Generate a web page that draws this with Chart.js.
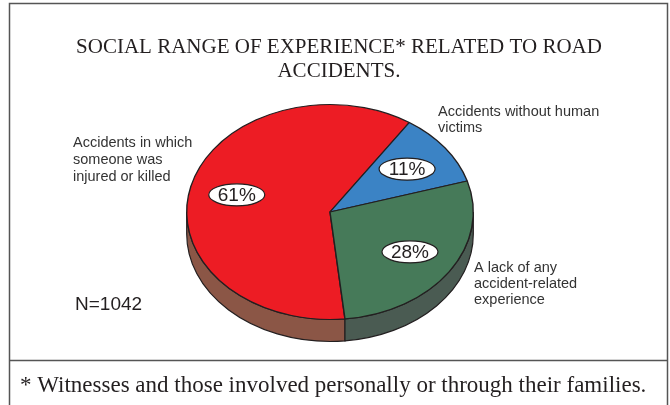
<!DOCTYPE html>
<html>
<head>
<meta charset="utf-8">
<script src="https://cdn.jsdelivr.net/npm/chart.js@4/dist/chart.umd.min.js"></script>
<style>
  html, body { margin: 0; padding: 0; background: #fff; }
  #wrap { width: 670px; height: 405px; }
</style>
</head>
<body>
<div id="wrap"><canvas id="chart" width="670" height="405"></canvas></div>
<script>
const categories = [
  "Accidents in which someone was injured or killed",
  "Accidents without human victims",
  "A lack of any accident-related experience"
];
const categoryLines = [
  ["Accidents in which", "someone was", "injured or killed"],
  ["Accidents without human", "victims"],
  ["A lack of any", "accident-related", "experience"]
];
const shares = [61, 11, 28];
const titleLines = ["SOCIAL RANGE OF EXPERIENCE* RELATED TO ROAD", "ACCIDENTS."];
const sampleNote = "N=1042";
const footnote = "* Witnesses and those involved personally or through their families.";

const topColors = ["#ed1c24", "#3b83c5", "#467a59"];
const sideColors = ["#8b5646", "#3a5f85", "#4a5b52"];
const ink = "#231f20";
const tilt = 0.75;
const depth = 22;

function drawSide(ctx, arc, color) {
  const { x, y, startAngle, endAngle, outerRadius } =
    arc.getProps(["x", "y", "startAngle", "endAngle", "outerRadius"], true);
  for (let k = -1; k <= 2; k++) {
    const a1 = Math.max(startAngle, k * 2 * Math.PI);
    const a2 = Math.min(endAngle, k * 2 * Math.PI + Math.PI);
    if (a2 <= a1) continue;
    ctx.beginPath();
    ctx.ellipse(x, y, outerRadius, outerRadius * tilt, 0, a1, a2);
    ctx.ellipse(x, y + depth, outerRadius, outerRadius * tilt, 0, a2, a1, true);
    ctx.closePath();
    ctx.fillStyle = color;
    ctx.fill();
    ctx.lineWidth = 1.2;
    ctx.strokeStyle = ink;
    ctx.stroke();
  }
}

const pie3d = {
  id: "pie3d",
  beforeDraw(chart) {
    const ctx = chart.ctx;
    ctx.save();
    ctx.fillStyle = "#fff";
    ctx.fillRect(0, 0, chart.width, chart.height);
    ctx.strokeStyle = "#555";
    ctx.lineWidth = 1.5;
    ctx.beginPath();
    ctx.moveTo(9.5, 410);
    ctx.lineTo(9.5, 3.5);
    ctx.lineTo(667.5, 3.5);
    ctx.lineTo(667.5, 410);
    ctx.moveTo(9.5, 360.5);
    ctx.lineTo(667.5, 360.5);
    ctx.stroke();
    ctx.restore();
  },
  beforeDatasetsDraw(chart) {
    const ctx = chart.ctx;
    const arcs = chart.getDatasetMeta(0).data;
    ctx.save();
    arcs.forEach((arc, i) => drawSide(ctx, arc, sideColors[i]));
    ctx.restore();
    const { x, y } = arcs[0].getProps(["x", "y"], true);
    ctx.save();
    ctx.translate(x, y);
    ctx.scale(1, tilt);
    ctx.translate(-x, -y);
  },
  afterDatasetsDraw(chart) {
    const ctx = chart.ctx;
    ctx.restore();
    const arcs = chart.getDatasetMeta(0).data;
    ctx.save();
    arcs.forEach((arc, i) => {
      const { x, y, startAngle, endAngle, outerRadius } =
        arc.getProps(["x", "y", "startAngle", "endAngle", "outerRadius"], true);
      const mid = (startAngle + endAngle) / 2;
      const r = outerRadius * 0.67;
      const lx = x + Math.cos(mid) * r;
      const ly = y + Math.sin(mid) * r * tilt;
      ctx.beginPath();
      ctx.ellipse(lx, ly, 28, 11, 0, 0, Math.PI * 2);
      ctx.fillStyle = "#fff";
      ctx.fill();
      ctx.lineWidth = 1.2;
      ctx.strokeStyle = ink;
      ctx.stroke();
      ctx.fillStyle = ink;
      ctx.font = "19px 'Liberation Sans', Arial, sans-serif";
      ctx.textAlign = "center";
      ctx.textBaseline = "middle";
      ctx.fillText(shares[i] + "%", lx, ly + 1);
    });
    ctx.restore();
  },
  afterDraw(chart) {
    const ctx = chart.ctx;
    ctx.save();
    ctx.fillStyle = ink;
    ctx.textBaseline = "middle";

    ctx.font = "21px 'Liberation Serif', 'Times New Roman', serif";
    ctx.textAlign = "center";
    ctx.fillText(titleLines[0], 339, 47);
    ctx.fillText(titleLines[1], 339, 71);

    ctx.fillStyle = "#333";
    ctx.font = "14.5px 'Liberation Sans', Arial, sans-serif";
    ctx.textAlign = "left";
    const spots = [[73, 143, 17], [438, 112, 16], [474, 268, 16]];
    categoryLines.forEach((lines, i) => {
      const [lx, ly, step] = spots[i];
      lines.forEach((t, j) => ctx.fillText(t, lx, ly + j * step));
    });

    ctx.fillStyle = ink;
    ctx.font = "19px 'Liberation Sans', Arial, sans-serif";
    ctx.fillText(sampleNote, 75, 305);

    ctx.font = "23px 'Liberation Serif', 'Times New Roman', serif";
    ctx.fillText(footnote, 20, 386);
    ctx.restore();
  }
};

new Chart(document.getElementById("chart"), {
  type: "pie",
  data: {
    labels: categories,
    datasets: [{
      data: shares,
      backgroundColor: topColors,
      borderColor: ink,
      borderWidth: 1.4,
      clip: false
    }]
  },
  options: {
    responsive: false,
    animation: false,
    events: [],
    rotation: 174,
    layout: { padding: { left: 186, right: 196, top: 68, bottom: 49 } },
    plugins: {
      legend: { display: false },
      tooltip: { enabled: false },
      title: { display: false }
    }
  },
  plugins: [pie3d]
});
</script>
</body>
</html>
